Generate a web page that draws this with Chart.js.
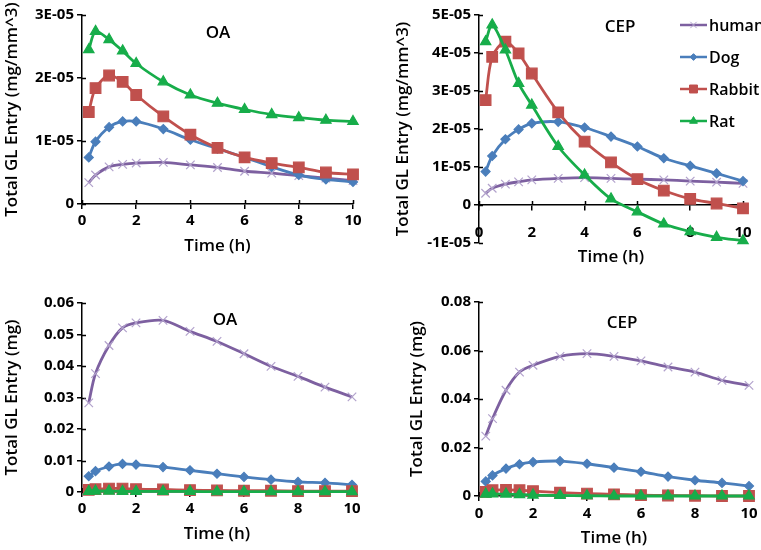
<!DOCTYPE html>
<html>
<head>
<meta charset="utf-8">
<script src="https://cdn.jsdelivr.net/npm/chart.js@4.4.0/dist/chart.umd.min.js"></script>
<style>
    html, body { margin: 0; padding: 0; background: #fff; }
    #wrap { position: relative; width: 761px; height: 550px; overflow: hidden; }
    #wrap canvas { position: absolute; left: 0; top: 0; }
</style>
</head>
<body>
<div id="wrap">
    <canvas id="oaConcChart" width="761" height="550"></canvas>
    <canvas id="cepConcChart" width="761" height="550"></canvas>
    <canvas id="oaMassChart" width="761" height="550"></canvas>
    <canvas id="cepMassChart" width="761" height="550"></canvas>
</div>
<script>
// sampling times (h)
const timeH = [0.25, 0.5, 1, 1.5, 2, 3, 4, 5, 6, 7, 8, 9, 10];
const species = ['human', 'Dog', 'Rabbit', 'Rat'];

// OA, total GL entry (mg/mm^3)
const oaConcHuman  = [0.34e-5, 0.46e-5, 0.59e-5, 0.63e-5, 0.65e-5, 0.66e-5, 0.62e-5, 0.58e-5, 0.52e-5, 0.49e-5, 0.45e-5, 0.41e-5, 0.37e-5];
const oaConcDog    = [0.74e-5, 0.99e-5, 1.22e-5, 1.31e-5, 1.31e-5, 1.19e-5, 1.02e-5, 0.88e-5, 0.74e-5, 0.59e-5, 0.46e-5, 0.39e-5, 0.35e-5];
const oaConcRabbit = [1.46e-5, 1.84e-5, 2.04e-5, 1.94e-5, 1.73e-5, 1.39e-5, 1.10e-5, 0.89e-5, 0.74e-5, 0.65e-5, 0.58e-5, 0.50e-5, 0.47e-5];
const oaConcRat    = [2.45e-5, 2.74e-5, 2.61e-5, 2.43e-5, 2.23e-5, 1.94e-5, 1.73e-5, 1.60e-5, 1.50e-5, 1.42e-5, 1.37e-5, 1.33e-5, 1.31e-5];

// CEP, total GL entry (mg/mm^3)
const cepConcHuman  = [0.31e-5, 0.44e-5, 0.55e-5, 0.61e-5, 0.66e-5, 0.70e-5, 0.72e-5, 0.70e-5, 0.68e-5, 0.66e-5, 0.63e-5, 0.60e-5, 0.57e-5];
const cepConcDog    = [0.88e-5, 1.29e-5, 1.73e-5, 1.99e-5, 2.15e-5, 2.19e-5, 2.04e-5, 1.80e-5, 1.54e-5, 1.23e-5, 1.03e-5, 0.83e-5, 0.63e-5];
const cepConcRabbit = [2.76e-5, 3.90e-5, 4.30e-5, 3.99e-5, 3.46e-5, 2.44e-5, 1.67e-5, 1.12e-5, 0.68e-5, 0.38e-5, 0.16e-5, 0.04e-5, -0.09e-5];
const cepConcRat    = [4.30e-5, 4.74e-5, 4.08e-5, 3.20e-5, 2.63e-5, 1.54e-5, 0.79e-5, 0.16e-5, -0.18e-5, -0.50e-5, -0.70e-5, -0.85e-5, -0.94e-5];

// OA, total GL entry (mg)
const oaMassHuman  = [0.0283, 0.0376, 0.0465, 0.0521, 0.0537, 0.0545, 0.0510, 0.0478, 0.0439, 0.0399, 0.0367, 0.0333, 0.0302];
const oaMassDog    = [0.0050, 0.0066, 0.0081, 0.0089, 0.0087, 0.0079, 0.0069, 0.0058, 0.0048, 0.0039, 0.0032, 0.0029, 0.0023];
const oaMassRabbit = [0.0007, 0.0009, 0.0011, 0.0011, 0.0009, 0.0008, 0.0006, 0.0005, 0.0004, 0.0004, 0.0003, 0.0003, 0.0003];
const oaMassRat    = [0.0002, 0.0003, 0.0003, 0.0002, 0.0002, 0.0002, 0.0002, 0.0001, 0.0001, 0.0001, 0.0001, 0.0001, 0.0001];

// CEP, total GL entry (mg)
const cepMassHuman  = [0.0247, 0.0319, 0.0436, 0.0511, 0.0539, 0.0576, 0.0587, 0.0576, 0.0557, 0.0532, 0.0511, 0.0477, 0.0456];
const cepMassDog    = [0.0060, 0.0085, 0.0113, 0.0131, 0.0140, 0.0144, 0.0133, 0.0117, 0.0100, 0.0080, 0.0065, 0.0054, 0.0041];
const cepMassRabbit = [0.0017, 0.0024, 0.0025, 0.0024, 0.0020, 0.0014, 0.0010, 0.0007, 0.0004, 0.0002, 0.0001, 0.0000, 0.0000];
const cepMassRat    = [0.0008, 0.0009, 0.0008, 0.0006, 0.0004, 0.0002, 0.0001, 0.0000, 0.0000, 0.0000, 0.0000, 0.0000, 0.0000];

const xTicks = { min: 0, max: 10, step: 2 };

// series looks (Excel 2007 style)
const seriesStyle = [
    { line: '#7d60a0', point: '#b2a2cc', pointStyle: 'crossRot', radius: 6, order: 3 },
    { line: '#4a7ebb', point: '#4a7ebb', pointStyle: 'rectRot', radius: 4.5, order: 2 },
    { line: '#c0504d', point: '#c0504d', pointStyle: 'rect', radius: 7.5, order: 1 },
    { line: '#17ad4a', point: '#17ad4a', pointStyle: 'triangle', radius: 6, order: 0 }
];

const FONT = "'Open Sans', 'DejaVu Sans', sans-serif";
Chart.defaults.color = '#000';
Chart.defaults.font.family = FONT;

// tick marks that cross the axis line
const crossTicks = {
    id: 'crossTicks',
    beforeDatasetsDraw(chart) {
        const { ctx, chartArea, scales } = chart;
        const axisY = scales.y.getPixelForValue(0);
        ctx.save();
        ctx.strokeStyle = '#000';
        ctx.lineWidth = 1.5;
        ctx.beginPath();
        scales.y.ticks.forEach(t => {
            const py = Math.round(scales.y.getPixelForValue(t.value)) + 0.5;
            ctx.moveTo(chartArea.left, py);
            ctx.lineTo(chartArea.left + 4, py);
        });
        scales.x.ticks.forEach(t => {
            const px = Math.round(scales.x.getPixelForValue(t.value)) + 0.5;
            ctx.moveTo(px, axisY);
            ctx.lineTo(px, axisY - 4);
        });
        ctx.stroke();
        ctx.restore();
    }
};

// "OA" / "CEP" label inside the plot
const panelTitle = {
    id: 'panelTitle',
    afterDraw(chart, args, opts) {
        if (!opts.text) return;
        const ctx = chart.ctx;
        ctx.save();
        ctx.font = '600 17px ' + FONT;
        ctx.fillStyle = '#000';
        ctx.textAlign = 'center';
        ctx.textBaseline = 'middle';
        ctx.fillText(opts.text, opts.x, opts.y);
        ctx.restore();
    }
};

// legend with line + marker samples
const sideLegend = {
    id: 'sideLegend',
    afterDraw(chart, args, opts) {
        if (!opts.show) return;
        const ctx = chart.ctx;
        ctx.save();
        species.forEach((name, i) => {
            const s = seriesStyle[i];
            const y = opts.y + i * opts.gap;
            ctx.strokeStyle = s.line;
            ctx.lineWidth = 2.5;
            ctx.beginPath();
            ctx.moveTo(opts.x, y);
            ctx.lineTo(opts.x + 27, y);
            ctx.stroke();
            ctx.fillStyle = s.point;
            ctx.strokeStyle = s.point;
            ctx.lineWidth = 1;
            Chart.helpers.drawPoint(ctx, { pointStyle: s.pointStyle, radius: s.radius * 0.75, rotation: 0, borderWidth: 1 }, opts.x + 13.5, y);
            ctx.fillStyle = '#000';
            ctx.font = '600 16px ' + FONT;
            ctx.textAlign = 'left';
            ctx.textBaseline = 'middle';
            ctx.fillText(name, opts.x + 29, y + 1);
        });
        ctx.restore();
    }
};

function expLabel(v) {
    if (Math.abs(v) < 1e-12) return '0';
    return Math.round(v / 1e-5) + 'E-05';
}

function decLabel(v) {
    if (Math.abs(v) < 1e-9) return '0';
    return v.toFixed(2);
}

function makePanel(id, cfg) {
    const W = 761, H = 550;
    const a = cfg.area;
    const datasets = cfg.series.map((vals, i) => {
        const s = seriesStyle[i];
        return {
            label: species[i],
            data: timeH.map((t, j) => ({ x: t, y: vals[j] })),
            borderColor: s.line,
            backgroundColor: s.point,
            borderWidth: 2.8,
            tension: 0.3,
            pointStyle: s.pointStyle,
            pointRadius: s.radius,
            pointBackgroundColor: s.point,
            pointBorderColor: s.point,
            pointBorderWidth: 1.2,
            order: s.order,
            clip: false
        };
    });

    const xScale = {
        type: 'linear',
        min: xTicks.min,
        max: xTicks.max,
        position: cfg.xAtZero ? { y: 0 } : 'bottom',
        ticks: { stepSize: xTicks.step, padding: cfg.xLabelPad, font: { size: 15, weight: 'bold' }, maxRotation: 0 },
        grid: { drawOnChartArea: false, tickLength: 5, color: '#000', lineWidth: 1.5 },
        border: { color: '#000', width: 1.5 },
        title: { display: true, text: 'Time (h)', font: { size: 17, weight: '600' }, padding: { top: 0, bottom: cfg.xTitlePad || 0 } },
        afterFit: s => {
            s.height = cfg.xHeight;
            s.paddingLeft = s.paddingRight = s.paddingTop = s.paddingBottom = 0;
        }
    };

    const yScale = {
        type: 'linear',
        min: cfg.yMin,
        max: cfg.yMax,
        ticks: { stepSize: cfg.yStep, padding: 3, font: { size: 15, weight: 'bold' }, callback: cfg.yFormat },
        grid: { drawOnChartArea: false, tickLength: 5, color: '#000', lineWidth: 1.5 },
        border: { color: '#000', width: 1.5 },
        title: { display: true, text: cfg.yTitle, font: { size: 17, weight: '600' }, padding: { top: 2, bottom: 0 } },
        afterFit: s => {
            s.width = cfg.yWidth;
            s.paddingLeft = s.paddingRight = s.paddingTop = s.paddingBottom = 0;
        }
    };

    return new Chart(document.getElementById(id), {
        type: 'line',
        data: { datasets },
        options: {
            responsive: false,
            animation: false,
            events: [],
            layout: {
                padding: {
                    left: a.left - cfg.yWidth,
                    right: W - a.right,
                    top: a.top,
                    bottom: cfg.xAtZero ? H - a.bottom : H - a.bottom - cfg.xHeight
                }
            },
            scales: { x: xScale, y: yScale },
            plugins: {
                legend: { display: false },
                tooltip: { enabled: false },
                panelTitle: cfg.title,
                sideLegend: cfg.legend || { show: false }
            }
        },
        plugins: [crossTicks, panelTitle, sideLegend]
    });
}

makePanel('oaConcChart', {
    area: { left: 82, top: 15, right: 353, bottom: 204 },
    yWidth: 82, xHeight: 52, xLabelPad: 3,
    yMin: 0, yMax: 3e-5, yStep: 1e-5, yFormat: expLabel,
    yTitle: 'Total GL Entry (mg/mm^3)',
    title: { text: 'OA', x: 218, y: 33 },
    series: [oaConcHuman, oaConcDog, oaConcRabbit, oaConcRat]
});

makePanel('cepConcChart', {
    area: { left: 479, top: 15, right: 743, bottom: 243 },
    yWidth: 88, xHeight: 62, xLabelPad: 14, xAtZero: true,
    yMin: -1e-5, yMax: 5e-5, yStep: 1e-5, yFormat: expLabel,
    yTitle: 'Total GL Entry (mg/mm^3)',
    title: { text: 'CEP', x: 620, y: 27 },
    legend: { show: true, x: 680, y: 25, gap: 32 },
    series: [cepConcHuman, cepConcDog, cepConcRabbit, cepConcRat]
});

makePanel('oaMassChart', {
    area: { left: 82, top: 303, right: 352, bottom: 492 },
    yWidth: 82, xHeight: 52, xLabelPad: 3,
    yMin: 0, yMax: 0.06, yStep: 0.01, yFormat: decLabel,
    yTitle: 'Total GL Entry (mg)',
    title: { text: 'OA', x: 225, y: 320 },
    series: [oaMassHuman, oaMassDog, oaMassRabbit, oaMassRat]
});

makePanel('cepMassChart', {
    area: { left: 479, top: 302, right: 749, bottom: 496 },
    yWidth: 74, xHeight: 52, xLabelPad: 4,
    yMin: 0, yMax: 0.08, yStep: 0.02, yFormat: decLabel,
    yTitle: 'Total GL Entry (mg)',
    title: { text: 'CEP', x: 622, y: 323 },
    series: [cepMassHuman, cepMassDog, cepMassRabbit, cepMassRat]
});
</script>
</body>
</html>
